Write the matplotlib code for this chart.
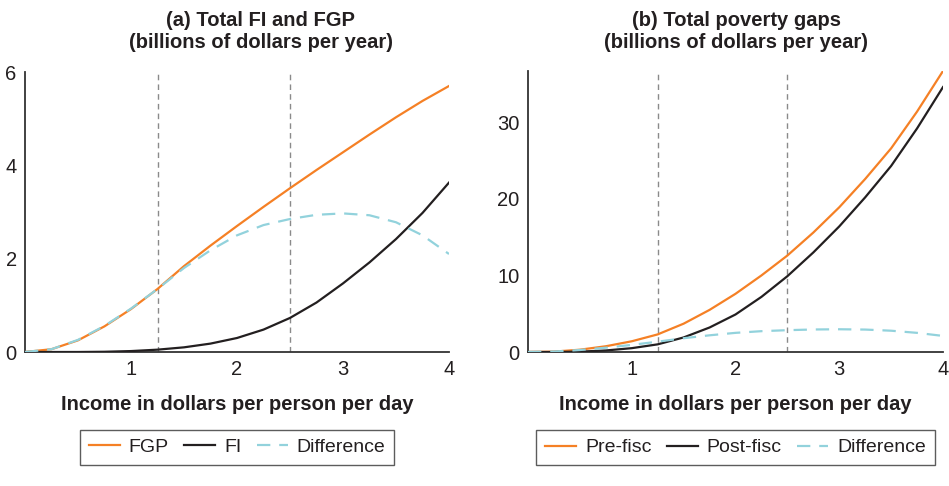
import matplotlib
matplotlib.use("Agg")
import matplotlib.pyplot as plt

plt.rcParams['font.family'] = ['Liberation Sans', 'DejaVu Sans']

# Data
income = [0, 0.25, 0.5, 0.75, 1.0, 1.25, 1.5, 1.75, 2.0, 2.25, 2.5, 2.75, 3.0, 3.25, 3.5, 3.75, 4.0]
fgp = [0, 0.06, 0.25, 0.55, 0.92, 1.35, 1.84, 2.28, 2.70, 3.11, 3.51, 3.90, 4.28, 4.66, 5.03, 5.38, 5.70]
fi = [0, 0, 0, 0.005, 0.02, 0.05, 0.10, 0.18, 0.30, 0.48, 0.73, 1.06, 1.47, 1.92, 2.42, 2.98, 3.63]
difference = [0, 0.06, 0.26, 0.56, 0.93, 1.35, 1.80, 2.18, 2.50, 2.72, 2.85, 2.94, 2.97, 2.93, 2.78, 2.50, 2.10]
pre_fisc = [0, 0.05, 0.3, 0.75, 1.4, 2.3, 3.7, 5.5, 7.6, 10.0, 12.6, 15.6, 18.9, 22.6, 26.6, 31.4, 36.7]
post_fisc = [0, 0, 0.05, 0.2, 0.5, 1.0, 1.9, 3.2, 4.9, 7.2, 9.9, 13.0, 16.4, 20.2, 24.3, 29.2, 34.6]
vlines = [1.25, 2.5]
left_title = "(a) Total FI and FGP\n(billions of dollars per year)"
right_title = "(b) Total poverty gaps\n(billions of dollars per year)"
xlabel = "Income in dollars per person per day"
left_labels = ["FGP", "FI", "Difference"]
right_labels = ["Pre-fisc", "Post-fisc", "Difference"]

ORANGE = "#F58025"
BLACK = "#231F20"
BLUE = "#92D2DC"
GREY = "#8A8A8A"
SPINE = "#333333"
TXT = "#231F20"

W, H = 949, 486
fig = plt.figure(figsize=(W / 100, H / 100), dpi=100)

def frac(x0, x1, ytop, ybot):
    return [x0 / W, 1 - ybot / H, (x1 - x0) / W, (ybot - ytop) / H]

ax1 = fig.add_axes(frac(25, 449, 72, 352))
ax2 = fig.add_axes(frac(528, 943, 71, 352))

def style(ax):
    for s in ['top', 'right']:
        ax.spines[s].set_visible(False)
    for s in ['left', 'bottom']:
        ax.spines[s].set_color(SPINE)
        ax.spines[s].set_linewidth(1.3)
    ax.tick_params(length=0, labelsize=14.5, colors=TXT, pad=6)
    ax.set_xlim(0, 4)
    ax.set_xticks([1, 2, 3, 4])
    ax.set_xlabel(xlabel, fontsize=14.5, fontweight='bold', color=TXT, labelpad=11)
    for v in vlines:
        ax.axvline(v, color=GREY, lw=1.0, ls=(0, (4, 3)), zorder=1)

style(ax1)
style(ax2)

l1, = ax1.plot(income, fgp, color=ORANGE, lw=1.6, zorder=3)
l2, = ax1.plot(income, fi, color=BLACK, lw=1.6, zorder=3)
l3, = ax1.plot(income, difference, color=BLUE, lw=1.6, ls=(0, (6, 4)), zorder=4)
ax1.set_ylim(0, 6)
ax1.set_yticks([0, 2, 4, 6])

r1, = ax2.plot(income, pre_fisc, color=ORANGE, lw=1.6, zorder=3)
r2, = ax2.plot(income, post_fisc, color=BLACK, lw=1.6, zorder=3)
r3, = ax2.plot(income, difference, color=BLUE, lw=1.6, ls=(0, (6, 4)), zorder=4)
ax2.set_ylim(0, 36.7)
ax2.set_yticks([0, 10, 20, 30])

for ax in (ax1, ax2):
    for lab in ax.get_xticklabels() + ax.get_yticklabels():
        lab.set_clip_on(False)

fig.text(261 / W, 1 - 11 / H, left_title, ha='center', va='top', fontsize=14.5,
         fontweight='bold', color=TXT, linespacing=1.2)
fig.text(736 / W, 1 - 11 / H, right_title, ha='center', va='top', fontsize=14.5,
         fontweight='bold', color=TXT, linespacing=1.2)

def legend(ax, handles, labels):
    lg = ax.legend(handles, labels, loc='center', ncol=3,
                   bbox_to_anchor=(0.5, -0.34), bbox_transform=ax.transAxes,
                   fontsize=14, frameon=True, fancybox=False, handlelength=1.6,
                   handletextpad=0.45, columnspacing=0.8, borderpad=0.45,
                   borderaxespad=0)
    fr = lg.get_frame()
    fr.set_edgecolor(SPINE)
    fr.set_linewidth(1.0)
    for t in lg.get_texts():
        t.set_color(TXT)
    return lg

legend(ax1, [l1, l2, l3], left_labels)
legend(ax2, [r1, r2, r3], right_labels)

fig.savefig("out.png", dpi=100)
